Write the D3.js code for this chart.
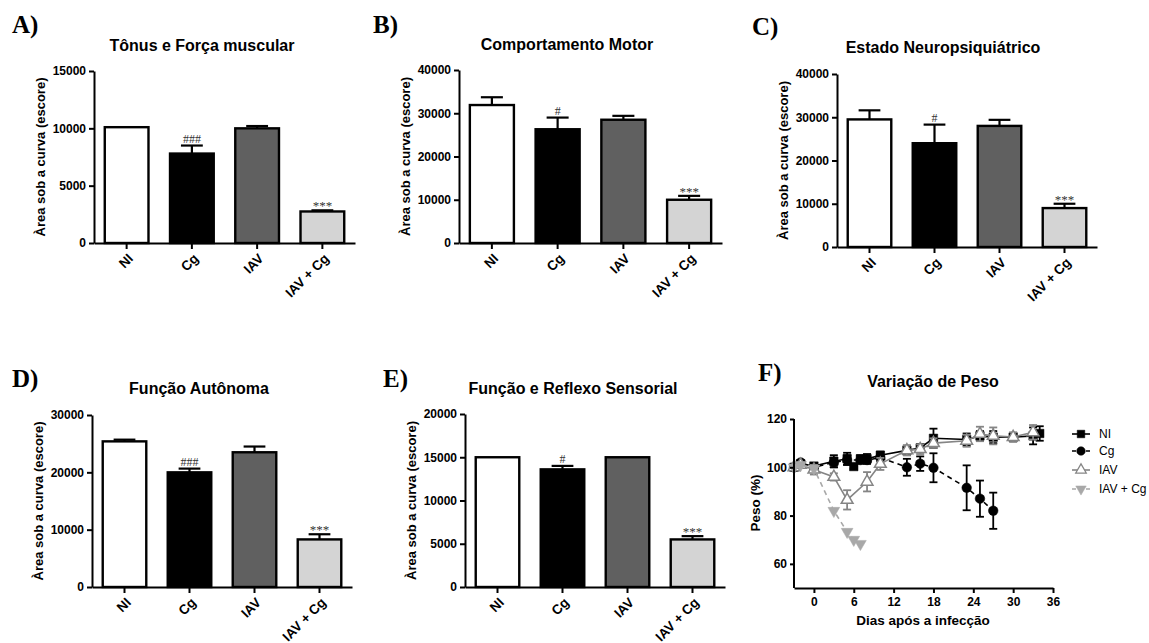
<!DOCTYPE html>
<html>
<head>
<meta charset="utf-8">
<script src="https://d3js.org/d3.v7.min.js"></script>
<style>
  body { margin: 0; background: #fff; }
  text { font-family: Arial, "Liberation Sans", sans-serif; }
</style>
</head>
<body>
<script>
// groups shared by the five bar panels
const groups = ["NI", "Cg", "IAV", "IAV + Cg"];
const groupFill = ["#ffffff", "#000000", "#606060", "#d4d4d4"];

// A) Tônus e Força muscular
const tonusMean = [10100, 7800, 10000, 2750];
const tonusErr = [0, 700, 200, 100];
const tonusTicks = [0, 5000, 10000, 15000];
const tonusMarks = ["", "###", "", "***"];

// B) Comportamento Motor
const motorMean = [31900, 26300, 28500, 10000];
const motorErr = [1800, 2700, 900, 900];
const motorTicks = [0, 10000, 20000, 30000, 40000];
const motorMarks = ["", "#", "", "***"];

// C) Estado Neuropsiquiátrico
const neuroMean = [29500, 24000, 28000, 9000];
const neuroErr = [2100, 4300, 1400, 1000];
const neuroTicks = [0, 10000, 20000, 30000, 40000];
const neuroMarks = ["", "#", "", "***"];

// D) Função Autônoma
const autoMean = [25400, 20000, 23500, 8300];
const autoErr = [300, 650, 1000, 900];
const autoTicks = [0, 10000, 20000, 30000];
const autoMarks = ["", "###", "", "***"];

// E) Função e Reflexo Sensorial
const sensMean = [15000, 13600, 15000, 5500];
const sensErr = [0, 400, 0, 380];
const sensTicks = [0, 5000, 10000, 15000, 20000];
const sensMarks = ["", "#", "", "***"];

// F) Variação de Peso
const niDays = [-3, -2, 0, 3, 5, 6, 7, 8, 10, 14, 16, 18, 23, 25, 27, 30, 33, 34];
const niWeight = [100, 101.5, 100.5, 102.5, 103.5, 100.3, 103.5, 103.5, 105, 107, 108, 112, 111.5, 113, 112.5, 112.5, 113, 114];
const niErr = [0.5, 0.8, 1, 2.5, 2.5, 1, 1.5, 2, 1.5, 2, 1.5, 4, 2.5, 2, 2.5, 1.5, 3.5, 3];

const cgDays = [-3, -2, 0, 3, 5, 7, 8, 10, 14, 16, 18, 23, 25, 27];
const cgWeight = [100, 102, 100, 102, 103, 103, 103, 104, 100, 101.5, 99.8, 91.5, 87, 82];
const cgErr = [0.5, 0.8, 1, 2, 2, 1.5, 1.5, 1.5, 3.5, 3, 6, 9.3, 7.5, 7.5];

const iavDays = [-3, -2, 0, 3, 5, 8, 10, 14, 16, 18, 23, 25, 27, 30, 33];
const iavWeight = [100, 101, 99, 96, 86.5, 94, 101.4, 107, 107.5, 110, 111, 113.8, 113, 112.5, 114.5];
const iavErr = [0.5, 1, 2, 1.5, 4, 4, 2.5, 2, 2, 2, 2.5, 3, 3.5, 2, 3];

const coinfDays = [-3, -2, 0, 3, 5, 6, 7];
const coinfWeight = [100, 101, 99.5, 82, 73.3, 70, 68.3];

const weightTicksY = [60, 80, 100, 120];
const weightTicksX = [0, 6, 12, 18, 24, 30, 36];

const svg = d3.select("body").append("svg")
  .attr("width", 1149).attr("height", 643);

const barPanels = [
  { letter: "A)", title: "Tônus e Força muscular", mean: tonusMean, err: tonusErr, ticks: tonusTicks, marks: tonusMarks,
    x0: 94, x1: 355, top: 71, bottom: 243, titleX: 202, titleY: 51, letterX: 12, letterY: 33 },
  { letter: "B)", title: "Comportamento Motor", mean: motorMean, err: motorErr, ticks: motorTicks, marks: motorMarks,
    x0: 459, x1: 722, top: 70, bottom: 243, titleX: 567, titleY: 50, letterX: 373, letterY: 33 },
  { letter: "C)", title: "Estado Neuropsiquiátrico", mean: neuroMean, err: neuroErr, ticks: neuroTicks, marks: neuroMarks,
    x0: 837, x1: 1097, top: 74, bottom: 247, titleX: 943, titleY: 53, letterX: 752, letterY: 35 },
  { letter: "D)", title: "Função Autônoma", mean: autoMean, err: autoErr, ticks: autoTicks, marks: autoMarks,
    x0: 92, x1: 352, top: 415, bottom: 587, titleX: 199, titleY: 394, letterX: 12, letterY: 387 },
  { letter: "E)", title: "Função e Reflexo Sensorial", mean: sensMean, err: sensErr, ticks: sensTicks, marks: sensMarks,
    x0: 465, x1: 725, top: 414, bottom: 587, titleX: 573, titleY: 394, letterX: 383, letterY: 387 }
];

function styleAxis(g, size) {
  g.selectAll("path, line").attr("stroke", "#000").attr("stroke-width", 2);
  g.selectAll("text").attr("font-size", size || 12).attr("font-weight", "bold").attr("fill", "#000");
}

function heading(letter, lx, ly, title, tx, ty) {
  svg.append("text").attr("x", lx).attr("y", ly)
    .style("font-family", "'Liberation Serif', 'Times New Roman', serif")
    .attr("font-size", 25).attr("font-weight", "bold").text(letter);
  svg.append("text").attr("x", tx).attr("y", ty).attr("text-anchor", "middle")
    .attr("font-size", 16).attr("font-weight", "bold").text(title);
}

function barPanel(p) {
  const x = d3.scaleBand().domain(groups).range([p.x0, p.x1])
    .paddingInner(0.33).paddingOuter(0.165);
  const y = d3.scaleLinear().domain([0, d3.max(p.ticks)]).range([p.bottom, p.top]);
  const g = svg.append("g");

  heading(p.letter, p.letterX, p.letterY, p.title, p.titleX, p.titleY);

  const rows = groups.map((k, i) => ({ k, v: p.mean[i], e: p.err[i], fill: groupFill[i], mark: p.marks[i] }));
  const bw = x.bandwidth();

  // error bars (behind bars)
  const eb = g.append("g").attr("stroke", "#000").attr("stroke-width", 2.2);
  rows.filter(d => d.e > 0).forEach(d => {
    const cx = x(d.k) + bw / 2;
    eb.append("line").attr("x1", cx).attr("x2", cx).attr("y1", y(d.v)).attr("y2", y(d.v + d.e));
    eb.append("line").attr("x1", cx - bw / 4).attr("x2", cx + bw / 4).attr("y1", y(d.v + d.e)).attr("y2", y(d.v + d.e));
  });

  g.append("g").selectAll("rect").data(rows).join("rect")
    .attr("x", d => x(d.k)).attr("y", d => y(d.v))
    .attr("width", bw).attr("height", d => y(0) - y(d.v))
    .attr("fill", d => d.fill).attr("stroke", "#000").attr("stroke-width", 2.4);

  g.append("g").selectAll("text").data(rows.filter(d => d.mark)).join("text")
    .attr("x", d => x(d.k) + bw / 2)
    .attr("y", d => y(d.v + d.e) - (d.mark[0] === "*" ? 0 : 3))
    .attr("text-anchor", "middle")
    .style("font-family", "'Liberation Serif', 'Times New Roman', serif")
    .attr("font-size", d => d.mark[0] === "*" ? 13 : 12).attr("fill", "#333").text(d => d.mark);

  const ya = g.append("g").attr("transform", `translate(${p.x0},0)`)
    .call(d3.axisLeft(y).tickValues(p.ticks).tickSize(5).tickSizeOuter(0).tickPadding(3).tickFormat(d3.format("d")));
  styleAxis(ya);

  const xa = g.append("g").attr("transform", `translate(0,${p.bottom})`)
    .call(d3.axisBottom(x).tickSize(6).tickSizeOuter(0));
  styleAxis(xa, 13.5);
  // rotated labels hanging under each tick
  xa.selectAll("text")
    .attr("text-anchor", "end")
    .attr("x", 0).attr("y", 0).attr("dy", "0.35em")
    .attr("transform", "translate(4,13) rotate(-45)");

  svg.append("text")
    .attr("transform", `translate(${p.x0 - 54},${(p.top + p.bottom) / 2}) rotate(-90)`)
    .attr("text-anchor", "middle").attr("dy", "0.35em")
    .attr("font-size", 13).attr("font-weight", "bold").text("Àrea sob a curva (escore)");
}

barPanels.forEach(barPanel);

// ---- F) weight curve ----
const fx0 = 794, fx1 = 1053, ftop = 419, fbottom = 588;
heading("F)", 758, 381, "Variação de Peso", 933, 387);

const wx = d3.scaleLinear().domain([-3, 36]).range([fx0, fx1]);
const wy = d3.scaleLinear().domain([50, 120]).range([fbottom, ftop]);

const series = [
  { name: "NI", days: niDays, w: niWeight, err: niErr, color: "#000", dash: null, shape: d3.symbolSquare, size: 72, fill: "#000" },
  { name: "Cg", days: cgDays, w: cgWeight, err: cgErr, color: "#000", dash: "5,4", shape: d3.symbolCircle, size: 72, fill: "#000" },
  { name: "IAV", days: iavDays, w: iavWeight, err: iavErr, color: "#858585", dash: null, shape: d3.symbolTriangle, size: 60, fill: "#fff" },
  { name: "IAV + Cg", days: coinfDays, w: coinfWeight, err: null, color: "#a8a8a8", dash: "5,4", shape: d3.symbolTriangle, size: 60, fill: "#a8a8a8", flip: true }
];

const line = d3.line().x(d => wx(d[0])).y(d => wy(d[1]));
const fg = svg.append("g");

series.forEach(s => {
  const pts = s.days.map((d, i) => [d, s.w[i], s.err ? s.err[i] : 0]);
  fg.append("path").datum(pts).attr("d", line).attr("fill", "none")
    .attr("stroke", s.color).attr("stroke-width", 1.6)
    .attr("stroke-dasharray", s.dash);
  if (s.err) {
    const eg = fg.append("g").attr("stroke", s.color).attr("stroke-width", 1.8);
    pts.filter(p => p[2] > 0.9).forEach(p => {
      const cx = wx(p[0]);
      eg.append("line").attr("x1", cx).attr("x2", cx).attr("y1", wy(p[1] - p[2])).attr("y2", wy(p[1] + p[2]));
      [p[1] - p[2], p[1] + p[2]].forEach(v => {
        eg.append("line").attr("x1", cx - 4).attr("x2", cx + 4).attr("y1", wy(v)).attr("y2", wy(v));
      });
    });
  }
  fg.append("g").selectAll("path").data(pts).join("path")
    .attr("d", d3.symbol().type(s.shape).size(s.size))
    .attr("transform", p => `translate(${wx(p[0])},${wy(p[1])})${s.flip ? " rotate(180)" : ""}`)
    .attr("fill", s.fill).attr("stroke", s.color).attr("stroke-width", s.fill === "#fff" ? 1.5 : 0.5);
});

const fya = fg.append("g").attr("transform", `translate(${fx0},0)`)
  .call(d3.axisLeft(wy).tickValues(weightTicksY).tickSize(4).tickSizeOuter(0).tickPadding(3));
styleAxis(fya);
const fxa = fg.append("g").attr("transform", `translate(0,${fbottom})`)
  .call(d3.axisBottom(wx).tickValues(weightTicksX).tickSize(5).tickSizeOuter(0).tickPadding(4));
styleAxis(fxa);
// y axis line should reach 120 only
fya.select(".domain").attr("d", `M0,${fbottom}V${ftop}`);

svg.append("text").attr("transform", `translate(755,503) rotate(-90)`)
  .attr("text-anchor", "middle").attr("dy", "0.35em")
  .attr("font-size", 13.5).attr("font-weight", "bold").text("Peso (%)");
svg.append("text").attr("x", 923).attr("y", 625).attr("text-anchor", "middle")
  .attr("font-size", 13.5).attr("font-weight", "bold").text("Dias após a infecção");

// legend
const lg = svg.append("g");
series.forEach((s, i) => {
  const ly = [434, 451, 470, 489][i];
  lg.append("line").attr("x1", 1072).attr("x2", 1090).attr("y1", ly).attr("y2", ly)
    .attr("stroke", s.color).attr("stroke-width", 1.6).attr("stroke-dasharray", s.dash ? "4,3" : null);
  lg.append("path").attr("d", d3.symbol().type(s.shape).size(s.size * 0.8))
    .attr("transform", `translate(1081,${ly})${s.flip ? " rotate(180)" : ""}`)
    .attr("fill", s.fill).attr("stroke", s.color).attr("stroke-width", s.fill === "#fff" ? 1.3 : 0.5);
  lg.append("text").attr("x", 1099).attr("y", ly).attr("dy", "0.35em")
    .attr("font-size", 12).text(s.name);
});
</script>
</body>
</html>
